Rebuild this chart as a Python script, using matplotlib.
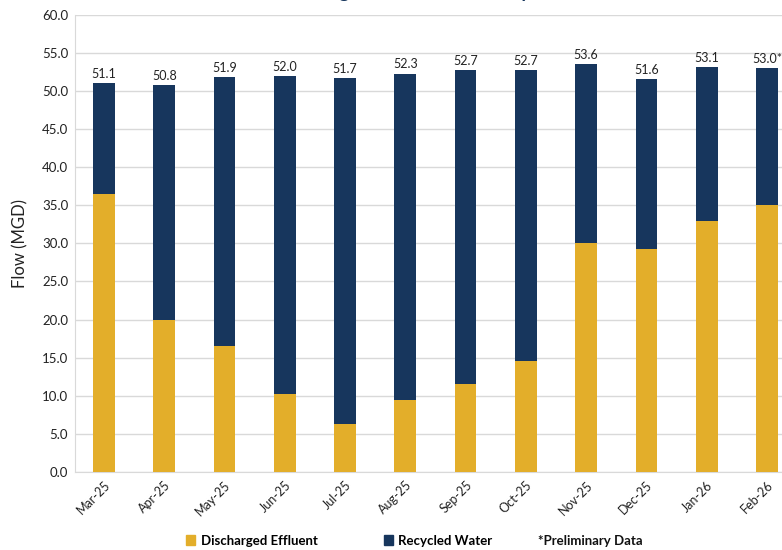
import matplotlib.pyplot as plt
from matplotlib.patches import Patch

months = ['Mar-25', 'Apr-25', 'May-25', 'Jun-25', 'Jul-25', 'Aug-25',
          'Sep-25', 'Oct-25', 'Nov-25', 'Dec-25', 'Jan-26', 'Feb-26']
discharged = [36.5, 20.0, 16.5, 10.2, 6.3, 9.4, 11.5, 14.5, 30.0, 29.2, 33.0, 35.0]
totals = [51.1, 50.8, 51.9, 52.0, 51.7, 52.3, 52.7, 52.7, 53.6, 51.6, 53.1, 53.0]
total_labels = ['51.1', '50.8', '51.9', '52.0', '51.7', '52.3',
                '52.7', '52.7', '53.6', '51.6', '53.1', '53.0*']
recycled = [round(t - d, 1) for t, d in zip(totals, discharged)]

yellow = '#E3AE2A'
navy = '#17365D'

plt.rcParams['font.family'] = ['Lato', 'DejaVu Sans']

fig = plt.figure(figsize=(7.82, 5.5), dpi=100)
ax = fig.add_axes([0.096, 0.142, 0.904, 0.831])

x = range(len(months))
ax.bar(x, discharged, width=0.36, color=yellow, zorder=3)
ax.bar(x, recycled, width=0.36, bottom=discharged, color=navy, zorder=3)

for i, lab in enumerate(total_labels):
    ax.text(i, totals[i] + 0.4, lab, ha='center', va='bottom', fontsize=9, color='#222222')

ax.set_ylim(0, 60)
ax.set_xlim(-0.48, 11.25)
ax.set_yticks(range(0, 61, 5))
ax.set_yticklabels([f'{v:.1f}' for v in range(0, 61, 5)], fontsize=9.5, color='#222222')
ax.set_xticks(list(x))
ax.set_xticklabels(months, rotation=45, ha='right', rotation_mode='anchor', fontsize=9, color='#222222')
ax.tick_params(axis='both', length=0, pad=5)
ax.grid(axis='y', color='#D9D9D9', linewidth=1, zorder=0)
for s in ['top', 'right']:
    ax.spines[s].set_visible(False)
for s in ['left', 'bottom']:
    ax.spines[s].set_color('#D9D9D9')

ax.set_ylabel('Flow (MGD)', fontsize=12, color='#222222', labelpad=10)

# legend: two coloured squares, then a plain note
handles = [Patch(color=yellow), Patch(color=navy)]
labels = ['Discharged Effluent', 'Recycled Water']
fig.legend(handles, labels, loc='center left', bbox_to_anchor=(0.223, 0.017), ncol=2,
           frameon=False, handlelength=0.7, handleheight=0.7, handletextpad=0.4,
           columnspacing=5.0, prop={'weight': 'bold', 'size': 9.5})
fig.text(0.688, 0.017, '*Preliminary Data', ha='left', va='center',
         fontsize=9.5, fontweight='bold', color='#111111')

# title sits mostly above the canvas, as in the original
fig.text(0.575, 1.014, 'Discharged Effluent and Recycled Water', ha='center', va='center',
         fontsize=14, fontweight='bold', color=navy)

fig.savefig('out.png', dpi=100)
